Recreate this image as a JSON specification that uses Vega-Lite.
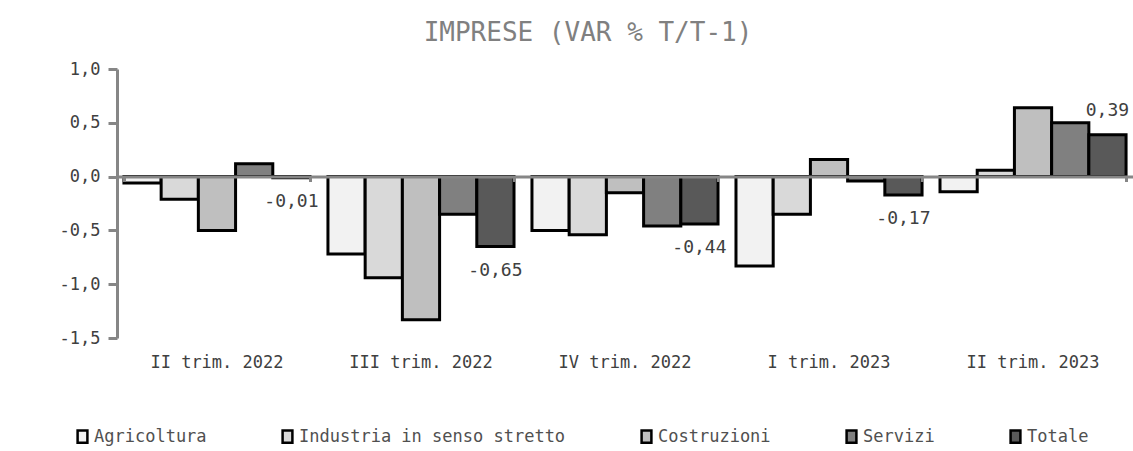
{
  "$schema": "https://vega.github.io/schema/vega-lite/v6.json",
  "autosize": {"type": "none"},
  "padding": {"left": 117, "top": 69, "right": 0, "bottom": 113},
  "width": 1016,
  "height": 269,
  "background": "white",
  "title": {
    "text": "IMPRESE (VAR % T/T-1)",
    "font": "DejaVu Sans Mono",
    "fontSize": 26,
    "fontWeight": "normal",
    "color": "#808080",
    "anchor": "middle",
    "dx": -37,
    "offset": 14
  },
  "config": {
    "view": {"stroke": null},
    "font": "DejaVu Sans Mono"
  },
  "data": {
    "values": [
      {"trim": "II trim. 2022", "settore": "Agricoltura", "v": -0.06},
      {"trim": "II trim. 2022", "settore": "Industria in senso stretto", "v": -0.21},
      {"trim": "II trim. 2022", "settore": "Costruzioni", "v": -0.50},
      {"trim": "II trim. 2022", "settore": "Servizi", "v": 0.12},
      {"trim": "II trim. 2022", "settore": "Totale", "v": -0.01, "etichetta": "-0,01"},
      {"trim": "III trim. 2022", "settore": "Agricoltura", "v": -0.72},
      {"trim": "III trim. 2022", "settore": "Industria in senso stretto", "v": -0.94},
      {"trim": "III trim. 2022", "settore": "Costruzioni", "v": -1.33},
      {"trim": "III trim. 2022", "settore": "Servizi", "v": -0.35},
      {"trim": "III trim. 2022", "settore": "Totale", "v": -0.65, "etichetta": "-0,65"},
      {"trim": "IV trim. 2022", "settore": "Agricoltura", "v": -0.50},
      {"trim": "IV trim. 2022", "settore": "Industria in senso stretto", "v": -0.54},
      {"trim": "IV trim. 2022", "settore": "Costruzioni", "v": -0.15},
      {"trim": "IV trim. 2022", "settore": "Servizi", "v": -0.46},
      {"trim": "IV trim. 2022", "settore": "Totale", "v": -0.44, "etichetta": "-0,44"},
      {"trim": "I trim. 2023", "settore": "Agricoltura", "v": -0.83},
      {"trim": "I trim. 2023", "settore": "Industria in senso stretto", "v": -0.35},
      {"trim": "I trim. 2023", "settore": "Costruzioni", "v": 0.16},
      {"trim": "I trim. 2023", "settore": "Servizi", "v": -0.04},
      {"trim": "I trim. 2023", "settore": "Totale", "v": -0.17, "etichetta": "-0,17"},
      {"trim": "II trim. 2023", "settore": "Agricoltura", "v": -0.14},
      {"trim": "II trim. 2023", "settore": "Industria in senso stretto", "v": 0.06},
      {"trim": "II trim. 2023", "settore": "Costruzioni", "v": 0.64},
      {"trim": "II trim. 2023", "settore": "Servizi", "v": 0.50},
      {"trim": "II trim. 2023", "settore": "Totale", "v": 0.39, "etichetta": "0,39"}
    ]
  },
  "encoding": {
    "x": {
      "field": "trim",
      "type": "nominal",
      "sort": null,
      "scale": {"paddingInner": 0.088, "paddingOuter": 0.034}
    },
    "xOffset": {
      "field": "settore",
      "type": "nominal",
      "sort": null,
      "scale": {
        "domain": ["Agricoltura", "Industria in senso stretto", "Costruzioni", "Servizi", "Totale"],
        "paddingInner": 0,
        "paddingOuter": 0
      }
    },
    "y": {
      "field": "v",
      "type": "quantitative",
      "scale": {"domain": [-1.5, 1.0], "nice": false, "zero": false},
      "axis": {
        "title": null,
        "values": [-1.5, -1, -0.5, 0, 0.5, 1],
        "labelExpr": "replace(replace(format(datum.value, '.1f'), '.', ','), '−', '-')",
        "grid": false,
        "domainColor": "#868686",
        "domainWidth": 3,
        "tickColor": "#868686",
        "tickWidth": 3,
        "tickSize": 9,
        "labelPadding": 8,
        "labelFontSize": 17,
        "labelColor": "#404040",
        "labelFont": "DejaVu Sans Mono",
        "zindex": 1
      }
    }
  },
  "layer": [
    {
      "mark": {"type": "bar", "stroke": "black", "strokeWidth": 3},
      "encoding": {
        "x": {
          "field": "trim",
          "type": "nominal",
          "sort": null,
          "axis": {
            "orient": "bottom",
            "title": null,
            "domain": false,
            "ticks": false,
            "labelAngle": 0,
            "labelPadding": 16,
            "labelFontSize": 17,
            "labelColor": "#404040",
            "labelFont": "DejaVu Sans Mono"
          }
        },
        "fill": {
          "field": "settore",
          "type": "nominal",
          "sort": null,
          "scale": {
            "domain": ["Agricoltura", "Industria in senso stretto", "Costruzioni", "Servizi", "Totale"],
            "range": ["#f2f2f2", "#d9d9d9", "#bfbfbf", "#808080", "#595959"]
          },
          "legend": {
            "title": null,
            "orient": "none",
            "direction": "horizontal",
            "legendX": -43,
            "legendY": 359,
            "padding": 0,
            "columnPadding": 70,
            "symbolType": "M-0.8,-1H0.8V1H-0.8Z",
            "symbolSize": 150,
            "symbolStrokeColor": "black",
            "symbolStrokeWidth": 2.5,
            "symbolOpacity": 1,
            "labelFontSize": 17,
            "labelFont": "DejaVu Sans Mono",
            "labelColor": "#505050",
            "labelOffset": 3,
            "labelLimit": 400
          }
        }
      }
    },
    {
      "transform": [{"filter": "datum.settore == 'Totale' && datum.v < 0"}],
      "mark": {"type": "text", "dy": 24, "baseline": "middle", "align": "center", "fontSize": 18, "font": "DejaVu Sans Mono", "color": "#404040"},
      "encoding": {
        "x": {
          "field": "trim",
          "type": "nominal",
          "sort": null,
          "axis": {
            "orient": "top",
            "offset": -107.5,
            "title": null,
            "labels": false,
            "domain": true,
            "domainColor": "#868686",
            "domainWidth": 3,
            "ticks": true,
            "tickBand": "extent",
            "tickSize": -5,
            "tickWidth": 3,
            "tickColor": "#868686",
            "zindex": 1
          }
        },
        "text": {"field": "etichetta"}
      }
    },
    {
      "transform": [{"filter": "datum.settore == 'Totale' && datum.v >= 0"}],
      "mark": {"type": "text", "dy": -24, "baseline": "middle", "align": "center", "fontSize": 18, "font": "DejaVu Sans Mono", "color": "#404040"},
      "encoding": {
        "x": {"field": "trim", "type": "nominal", "sort": null, "axis": null},
        "text": {"field": "etichetta"}
      }
    }
  ],
  "resolve": {"axis": {"x": "independent"}}
}
